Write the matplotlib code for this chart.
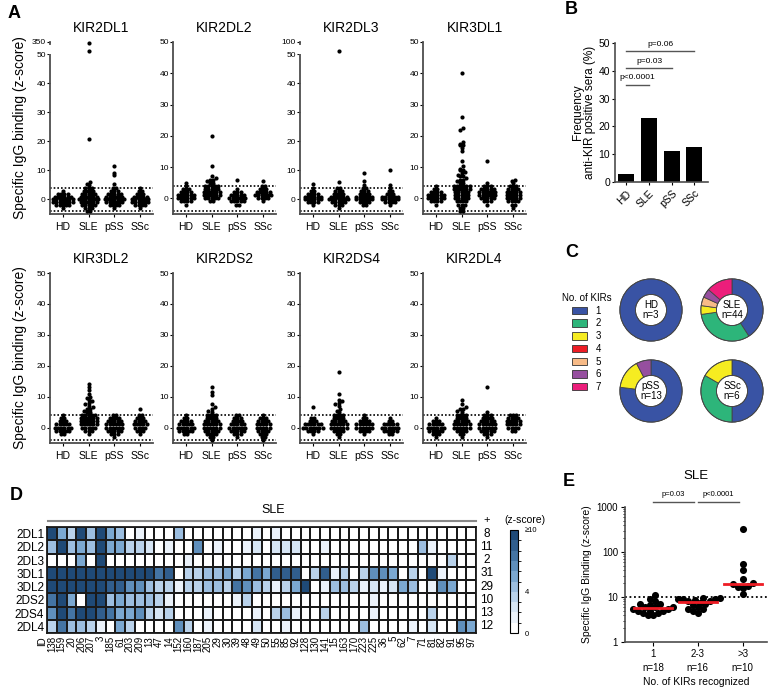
import numpy as np
import matplotlib.pyplot as plt
from matplotlib.colors import LinearSegmentedColormap, ListedColormap, BoundaryNorm
from matplotlib.patches import Patch
from matplotlib.lines import Line2D
from matplotlib.ticker import FuncFormatter, LogLocator, NullFormatter

plt.rcParams['font.family'] = ['Liberation Sans', 'DejaVu Sans']

# ---------------- data ----------------
groups = ['HD', 'SLE', 'pSS', 'SSc']
levels = [-4, -3, -2, -1, 0, 1, 2, 3, 4]      # z-score rows of the Prism-like scatter

# counts per level for HD, SLE, pSS, SSc and the single points above the rows
kir2dl1_counts = [[0, 1, 5, 7, 7, 6, 4, 1, 0], [2, 3, 5, 6, 7, 6, 5, 4, 3], [0, 1, 4, 6, 7, 6, 5, 3, 2], [0, 1, 4, 6, 6, 5, 3, 2, 1]]
kir2dl1_high = [[], [5, 5.5, 6, 21, 130, 320], [5.5, 8.5, 9, 11.5], []]
kir2dl2_counts = [[0, 0, 1, 4, 6, 6, 4, 3, 1], [0, 0, 0, 2, 5, 6, 6, 5, 5], [0, 0, 2, 5, 6, 5, 3, 1, 0], [0, 0, 0, 1, 4, 6, 5, 3, 2]]
kir2dl2_high = [[5], [5, 5, 5.5, 6, 6, 6.5, 7, 10.5, 20], [6], [5.5]]
kir2dl3_counts = [[0, 0, 1, 4, 6, 6, 4, 2, 1], [0, 1, 3, 5, 7, 6, 4, 3, 2], [0, 0, 2, 4, 6, 6, 4, 3, 2], [0, 0, 1, 4, 6, 6, 3, 2, 1]]
kir2dl3_high = [[5.5], [6, 65], [5, 6.5, 9], [5, 10]]
kir3dl1_counts = [[0, 0, 1, 4, 6, 6, 4, 2, 1], [2, 2, 3, 4, 5, 5, 5, 6, 6], [0, 0, 1, 3, 5, 6, 6, 5, 3], [0, 1, 2, 4, 5, 5, 5, 4, 3]]
kir3dl1_high = [[], [5, 5, 5.5, 6, 6, 6.5, 7, 7, 7.5, 8, 8.5, 9, 9, 9.5, 10.5, 12, 15, 16, 17, 17, 17.5, 18, 22, 22.5, 26, 40], [5, 12], [5, 5.5, 6]]
kir3dl2_counts = [[0, 0, 2, 5, 6, 5, 3, 2, 1], [0, 0, 1, 3, 5, 6, 6, 6, 5], [0, 1, 3, 5, 6, 6, 5, 4, 2], [0, 0, 1, 3, 4, 5, 4, 3, 2]]
kir3dl2_high = [[], [5, 5, 5.5, 6, 6, 6.5, 7, 7.5, 8, 8.5, 9, 9.5, 10, 11, 12, 13, 14], [], [6]]
kir2ds2_counts = [[0, 0, 2, 5, 6, 5, 4, 2, 1], [1, 2, 4, 5, 6, 6, 5, 4, 4], [0, 1, 3, 5, 6, 5, 4, 3, 2], [1, 2, 3, 4, 5, 5, 4, 3, 1]]
kir2ds2_high = [[], [5, 5.5, 6, 6.5, 7.5, 10.5, 11.5, 13], [], []]
kir2ds4_counts = [[0, 0, 1, 4, 7, 6, 3, 1, 0], [0, 1, 2, 4, 6, 6, 5, 4, 4], [0, 0, 1, 4, 6, 6, 4, 2, 1], [0, 0, 2, 5, 6, 5, 2, 1, 0]]
kir2ds4_high = [[3, 6.5], [5, 5.5, 6, 7, 7.5, 8, 8.5, 9, 11, 18], [], []]
kir2dl4_counts = [[0, 1, 3, 5, 6, 5, 3, 1, 0], [0, 1, 2, 4, 6, 6, 5, 4, 4], [0, 1, 3, 5, 6, 6, 5, 4, 3], [0, 0, 0, 2, 4, 5, 5, 4, 3]]
kir2dl4_high = [[], [5, 5.5, 6, 6, 6.5, 7.5, 9], [5, 13], []]

kir_names = ['KIR2DL1', 'KIR2DL2', 'KIR2DL3', 'KIR3DL1', 'KIR3DL2', 'KIR2DS2', 'KIR2DS4', 'KIR2DL4']
kir_counts = [kir2dl1_counts, kir2dl2_counts, kir2dl3_counts, kir3dl1_counts,
              kir3dl2_counts, kir2ds2_counts, kir2ds4_counts, kir2dl4_counts]
kir_high = [kir2dl1_high, kir2dl2_high, kir2dl3_high, kir3dl1_high,
            kir3dl2_high, kir2ds2_high, kir2ds4_high, kir2dl4_high]
axis_tops = [350, 50, 100, 50, 50, 50, 50, 50]

# B: frequency of anti-KIR positive sera (%)
pos_freq = [3, 23, 11, 12.5]
p_labels_b = ['p<0.0001', 'p=0.03', 'p=0.06']

# C: number of KIRs recognized (1..7) per cohort
kir_number = ['1', '2', '3', '4', '5', '6', '7']
donut_n = [3, 44, 13, 6]
hd_kirs = [3, 0, 0, 0, 0, 0, 0]
sle_kirs = [18, 14, 2, 0, 2, 2, 6]
pss_kirs = [10, 0, 2, 0, 0, 1, 0]
ssc_kirs = [3, 2, 1, 0, 0, 0, 0]

# D: SLE heatmap (z-score, capped at 10)
hm_ids = [138, 159, 20, 206, 207, 3, 185, 61, 203, 209, 13, 47, 14, 152, 160, 187, 205, 29, 30, 39, 48, 49,
          50, 55, 85, 92, 128, 130, 141, 15, 163, 170, 223, 225, 36, 5, 62, 7, 71, 81, 82, 91, 95, 97]
hm_rows = ['2DL1', '2DL2', '2DL3', '3DL1', '3DL2', '2DS2', '2DS4', '2DL4']
hm_2dl1 = [10, 5, 3, 10, 4, 10, 5, 4, 0, 1.5, 0, 0, 0, 4, 0, 0, 0, 0, 0, 0, 0, 1.5, 0, 1, 0, 0,
           0, 0, 0, 0, 0, 0, 0, 0, 0, 0, 0, 0, 0, 0, 0, 0, 0, 0]
hm_2dl2 = [4, 10, 4, 5, 4.5, 10, 5, 5, 3, 3.5, 2, 0, 1.5, 0, 0, 6, 0, 1, 0, 0, 1, 2, 0, 2, 2, 2.5,
           0, 0, 1.5, 0, 0, 0, 0, 0, 0, 0, 0, 0, 4, 1.5, 0, 0, 0, 0]
hm_2dl3 = [0, 0, 0, 5, 0, 10, 0, 0, 0, 0, 0, 0, 0, 0, 1, 0, 0, 0, 0, 0, 0, 0, 0, 0, 0, 0,
           0, 0, 0, 0, 0, 0, 0, 0, 0, 0, 0, 0, 0, 0, 0, 3.5, 0, 0]
hm_3dl1 = [10, 10, 10, 10, 10, 10, 10, 10, 10, 10, 9, 7, 8, 0, 3, 3.5, 4, 4.5, 5, 3, 5, 7.5, 5, 8, 8, 8.5,
           0, 3, 8, 1, 3, 0, 3, 6, 6.5, 5, 0, 3, 0, 9, 1, 0, 0, 0]
hm_3dl2 = [9, 10, 10, 10, 10, 10, 8, 8, 6, 6, 4.5, 3.5, 3.5, 1.5, 3.5, 3.5, 4, 4, 3.5, 7.5, 6.5, 4.5, 3.5, 1.5, 3, 5.5,
           10, 0, 1.5, 4, 4.5, 3.5, 1, 2, 1.5, 2, 5.5, 4.5, 0, 1.5, 6, 5.5, 0, 0]
hm_2ds2 = [7, 10, 5, 0, 10, 10, 4, 5, 4, 4, 4, 3.5, 1.5, 0, 0, 0, 0, 0, 0, 1.5, 3, 0, 0, 0, 0, 0,
           0, 0, 0, 0, 0, 0, 0, 1.5, 0, 0, 0, 0, 0, 0, 0, 0, 0, 0]
hm_2ds4 = [6, 10, 7, 9, 10, 8, 7, 5.5, 5, 6, 3, 2, 3, 0, 0, 0, 1, 0, 0, 0, 0, 1, 0, 3, 4, 1.5,
           0, 0, 3, 0, 0, 0, 0, 1, 0, 0, 0, 0, 0, 3, 0, 0, 0, 0]
hm_2dl4 = [3.5, 7, 4, 4, 3.5, 1.5, 0, 5, 3.5, 0, 0, 0, 0, 6.5, 3, 0, 1, 0, 0, 0, 0, 2, 0, 0, 1.5, 0,
           0, 0, 0, 0, 0, 0, 4, 0, 0, 0, 0, 1, 0, 2.5, 0, 0, 6, 5.5]
hm_pos = [8, 11, 2, 31, 29, 10, 13, 12]

# E: SLE binding by number of KIRs recognized
e_labels = ['1\nn=18', '2-3\nn=16', '>3\nn=10']
e_one = [4, 4, 4.5, 4.5, 5, 5, 5, 5.5, 5.5, 6, 6, 6, 6.5, 7, 7, 8, 9, 11]
e_two = [4.5, 5, 5.5, 5.5, 6, 6.5, 7, 7.5, 8, 8, 8.5, 9, 9, 9, 9.5, 9.5]
e_more = [11.5, 16, 17, 17.5, 19, 20, 25, 40, 55, 320]
e_pvals = ['p=0.03', 'p<0.0001']

# ---------------- layout helpers (pixels of a 770x692 canvas) ----------------
W, H = 770, 692


def box(left, top, right, bottom):
    return [left / W, 1 - bottom / H, (right - left) / W, (bottom - top) / H]


def ftext(x, y, s, **kw):
    fig.text(x / W, 1 - y / H, s, **kw)


fig = plt.figure(figsize=(7.7, 6.92), dpi=100)
spine_col = '#4d4d4d'

# ---------------- A ----------------
a_lefts = [50, 173, 300, 423]
a_rows = [(42, 214), (273, 443)]


def prism_swarm(ax, counts, high, dx=0.125):
    # points sharing a (rounded) value are spread sideways like Prism does
    for g, (c, h) in enumerate(zip(counts, high)):
        vals = np.concatenate([np.repeat(levels, c), np.asarray(h, float)])
        rows_ = np.round(vals)
        for r in np.unique(rows_):
            v = vals[rows_ == r]
            off = (np.arange(len(v)) - (len(v) - 1) / 2) * dx
            ax.scatter(g + 1 + off, v, s=9, color='k', linewidths=0, zorder=3, clip_on=False)


for n, name in enumerate(kir_names):
    r, c = divmod(n, 4)
    ax = fig.add_axes(box(a_lefts[c], a_rows[r][0], a_lefts[c] + 103, a_rows[r][1]))
    top = axis_tops[n]
    if top > 50:
        k = 4.3 / (top - 50)
        fwd = lambda y, k=k: np.where(y <= 50, y, 50 + (y - 50) * k)
        inv = lambda y, k=k: np.where(y <= 50, y, 50 + (y - 50) / k)
        ax.set_yscale('function', functions=(fwd, inv))
        ax.set_yticks([0, 10, 20, 30, 40, 50, top])
        # little gap in the spine for the axis break
        ax.plot([0, 0], [float(inv(51.0)), float(inv(52.6))], transform=ax.get_yaxis_transform(),
                color='white', lw=3, zorder=5, clip_on=False)
    else:
        ax.set_yticks([0, 10, 20, 30, 40, 50])
    ax.set_ylim(-5, top)
    ax.set_xlim(0.5, 4.5)
    prism_swarm(ax, kir_counts[n], kir_high[n])
    ax.axhline(4, color='k', ls=(0, (1, 1.2)), lw=1.2, zorder=2)
    ax.axhline(-4, color='k', ls=(0, (1, 1.2)), lw=1.2, zorder=2)
    ax.set_xticks(range(1, 5))
    ax.set_xticklabels(groups)
    for s in ['top', 'right']:
        ax.spines[s].set_visible(False)
    for s in ['left', 'bottom']:
        ax.spines[s].set_color(spine_col)
        ax.spines[s].set_linewidth(1.3)
    ax.tick_params(axis='y', labelsize=6, length=2, width=0.8, pad=1, colors='k')
    ax.tick_params(axis='x', labelsize=7.5, length=2, width=0.8, pad=4)
    ax.set_title(name, fontsize=10, pad=7)

ftext(20, 128, 'Specific IgG binding (z-score)', rotation=90, fontsize=10, ha='center', va='center')
ftext(20, 358, 'Specific IgG binding (z-score)', rotation=90, fontsize=10, ha='center', va='center')

# ---------------- B ----------------
axb = fig.add_axes(box(615, 43, 708, 182))
xb = np.arange(1, 5)
axb.bar(xb, pos_freq, width=0.7, color='k')
axb.set_xlim(0.5, 4.6)
axb.set_ylim(0, 50)
axb.set_yticks([0, 10, 20, 30, 40, 50])
axb.set_xticks(xb)
axb.set_xticklabels(groups, rotation=45, ha='right', va='top', rotation_mode='anchor')
for s in ['top', 'right']:
    axb.spines[s].set_visible(False)
for s in ['left', 'bottom']:
    axb.spines[s].set_color(spine_col)
    axb.spines[s].set_linewidth(1.2)
axb.tick_params(axis='y', labelsize=7.5, length=2.5, pad=1)
axb.tick_params(axis='x', labelsize=7.5, length=2.5, pad=2)
axb.set_ylabel('Frequency\nanti-KIR positive sera (%)', fontsize=8.5, labelpad=2, linespacing=1.0)
for i, lab in enumerate(p_labels_b):
    yb = 35 + 6 * i
    axb.plot([1, i + 2], [yb, yb], color='#555', lw=1)
    axb.text((1 + i + 2) / 2, yb + 1.2, lab, fontsize=6, ha='center', va='bottom')

# ---------------- C ----------------
kir_colors = ['#3953a4', '#2db57a', '#f6ec21', '#ec1d25', '#f8bb87', '#964f9f', '#ec1e7b']
handles = [Patch(facecolor=col, edgecolor='#333', lw=0.6, label=lab) for col, lab in zip(kir_colors, kir_number)]
fig.legend(handles=handles, title='No. of KIRs', loc='upper left', bbox_to_anchor=(562 / W, 1 - 293 / H),
           frameon=False, fontsize=7, title_fontsize=7, handlelength=1.5, handleheight=0.8,
           labelspacing=0.28, handletextpad=0.9, borderaxespad=0, borderpad=0)

donut_sets = [hd_kirs, sle_kirs, pss_kirs, ssc_kirs]
donut_centres = [(651, 310), (732, 310), (651, 391), (732, 391)]
for grp, kset, nn, (cx, cy) in zip(groups, donut_sets, donut_n, donut_centres):
    axd = fig.add_axes(box(cx - 33, cy - 33, cx + 33, cy + 33))
    vals = [v for v in kset if v > 0]
    cols = [col for v, col in zip(kset, kir_colors) if v > 0]
    axd.pie(vals, colors=cols, startangle=90, counterclock=False, radius=1,
            wedgeprops=dict(width=0.5, edgecolor='#444', linewidth=0.6))
    axd.add_patch(plt.Circle((0, 0), 1, fill=False, ec='#444', lw=0.6))
    axd.add_patch(plt.Circle((0, 0), 0.5, fill=False, ec='#444', lw=0.6))
    axd.set_xlim(-1.06, 1.06)
    axd.set_ylim(-1.06, 1.06)
    axd.set_aspect('equal')
    axd.axis('off')
    axd.text(0, 0, f'{grp}\nn={nn}', ha='center', va='center', fontsize=7, linespacing=1.1)

# ---------------- D ----------------
hm = np.array([hm_2dl1, hm_2dl2, hm_2dl3, hm_3dl1, hm_3dl2, hm_2ds2, hm_2ds4, hm_2dl4])
base = LinearSegmentedColormap.from_list('kir', ['#ffffff', '#dbe8f5', '#a8c7e6', '#6f9fcb', '#3f6f9f', '#1f4a77'])
cmap = ListedColormap(base(np.linspace(0, 1, 10)))
norm = BoundaryNorm(np.arange(0, 11), 10, clip=True)

axh = fig.add_axes(box(47, 527, 476, 633))
mesh = axh.pcolormesh(np.arange(len(hm_ids) + 1) - 0.5, np.arange(len(hm_rows) + 1) - 0.5, hm,
                      cmap=cmap, norm=norm, edgecolors='#1a1a1a', linewidth=1.3)
axh.set_xlim(-0.5, len(hm_ids) - 0.5)
axh.set_ylim(len(hm_rows) - 0.5, -0.5)
axh.set_yticks(range(len(hm_rows)))
axh.set_yticklabels(hm_rows, fontsize=8.5)
axh.set_xticks(range(len(hm_ids)))
axh.set_xticklabels([str(i) for i in hm_ids], rotation=90, fontsize=7, va='top')
axh.tick_params(length=0, pad=2)
for s in axh.spines.values():
    s.set_linewidth(1.3)
    s.set_color('#1a1a1a')
axh.text(-0.95, len(hm_rows) - 0.5 + 0.25, 'ID', rotation=90, fontsize=7, ha='center', va='top', clip_on=False)
for i, v in enumerate(hm_pos):
    axh.text(len(hm_ids) + 0.6, i, str(v), fontsize=8.5, ha='center', va='center', clip_on=False)
axh.text(len(hm_ids) + 0.6, -1.05, '+', fontsize=8, ha='center', va='center', clip_on=False)
ftext(525, 520, '(z-score)', fontsize=7.5, ha='center', va='center')
ftext(273, 510, 'SLE', fontsize=9, ha='center', va='center')
fig.add_artist(Line2D([48 / W, 476 / W], [1 - 521 / H, 1 - 521 / H], color='#888', lw=1.5))

cax = fig.add_axes(box(510, 530, 518, 633))
cb = fig.colorbar(mesh, cax=cax, ticks=[0, 4, 10])
cb.ax.set_yticklabels(['0', '4', '≥10'])
cb.ax.tick_params(length=0, labelsize=5.5, pad=5)
cb.outline.set_linewidth(0.8)

# ---------------- E ----------------
axe = fig.add_axes(box(625, 507, 767, 642))
axe.set_yscale('log')
axe.set_ylim(1, 1000)
axe.set_xlim(0.38, 3.54)


def swarm_offsets(vals, px_x=45.0, px_y=45.0, d=5.0):
    # greedy beeswarm in pixel space
    placed, offs = [], []
    ys = np.log10(vals) * px_y
    cands = sorted(np.arange(-14, 15) * d / 2, key=abs)
    for y in ys:
        for cand in cands:
            if all((cand - px) ** 2 + (y - py) ** 2 >= d ** 2 for px, py in placed):
                break
        placed.append((cand, y))
        offs.append(cand / px_x)
    return np.array(offs)


for g, vals in enumerate([e_one, e_two, e_more]):
    vals = np.sort(np.asarray(vals, float))
    axe.scatter(g + 1 + swarm_offsets(vals), vals, s=26, color='k', linewidths=0, zorder=3)
    med = np.median(vals)
    axe.plot([g + 1 - 0.42, g + 1 + 0.42], [med, med], color='#ee1c24', lw=2, zorder=4)
axe.axhline(10, color='k', ls=(0, (1, 1.5)), lw=1.3, zorder=2)
axe.set_xticks([1, 2, 3])
axe.set_xticklabels(e_labels, linespacing=1.5)
axe.yaxis.set_major_locator(LogLocator(base=10, numticks=5))
axe.yaxis.set_minor_locator(LogLocator(base=10, subs=np.arange(2, 10), numticks=20))
axe.yaxis.set_minor_formatter(NullFormatter())
axe.yaxis.set_major_formatter(FuncFormatter(lambda v, _: f'{v:g}'))
for s in ['top', 'right']:
    axe.spines[s].set_visible(False)
for s in ['left', 'bottom']:
    axe.spines[s].set_color(spine_col)
    axe.spines[s].set_linewidth(1.2)
axe.tick_params(axis='both', labelsize=7, length=3, pad=2)
axe.tick_params(axis='y', which='minor', length=1.5)
axe.set_xlabel('No. of KIRs recognized', fontsize=7.5, labelpad=3)
axe.set_ylabel('Specific IgG Binding (z-score)', fontsize=7.5, labelpad=3)
axe.set_title('SLE', fontsize=9.5, pad=20)
for i, lab in enumerate(e_pvals):
    axe.plot([i + 1, i + 1.92], [1300, 1300], color='#555', lw=1, clip_on=False)
    axe.text(i + 1.46, 1600, lab, fontsize=5.5, ha='center', va='bottom')

# ---------------- panel letters ----------------
for lab, (x, y) in zip('ABCDE', [(8, 13), (565, 10), (565, 253), (10, 495), (563, 482)]):
    ftext(x, y, lab, fontsize=13, fontweight='bold', ha='left', va='center')

fig.savefig('out.png', dpi=100)
